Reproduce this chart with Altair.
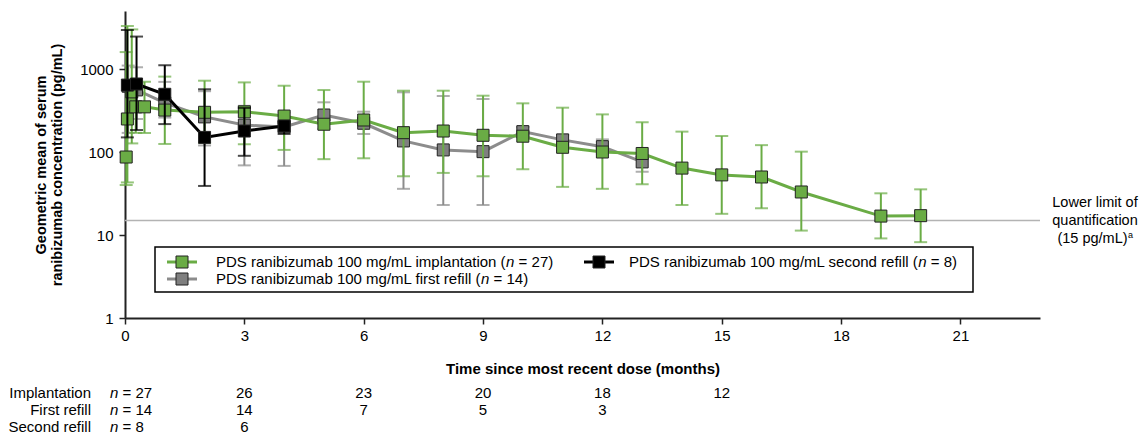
import altair as alt
import pandas as pd

# ---------------- data ----------------
impl_t = [0.03, 0.06, 0.17, 0.27, 0.49, 1, 2, 3, 4, 5, 6, 7, 8, 9, 10, 11, 12, 13, 14, 15, 16, 17, 19, 20]
impl_mean = [87, 250, 530, 350, 350, 320, 301, 305, 271, 216, 243, 171, 179, 159, 155, 114, 100, 96, 64, 53, 50, 33, 16.9, 17.1]
impl_hi = [1600, 3300, 3000, 700, 700, 810, 723, 690, 629, 558, 703, 548, 548, 477, 386, 342, 284, 228, 176, 156, 121, 101, 31.8, 35.5]
impl_lo = [40, 43, 127, 170, 170, 125, 130, 124, 106, 82, 84, 51, 56, 51, 62, 38, 36, 41, 23, 18, 21, 11.3, 9.1, 8.2]

first_t = [0.08, 0.29, 1, 2, 3, 4, 5, 6, 7, 8, 9, 10, 11, 12, 13]
first_mean = [620, 560, 390, 265, 211, 200, 279, 222, 136, 106, 101, 176, 140, 116, 76]
first_hi = [1100, 1050, 700, 540, 360, 300, 397, 306, 524, 473, 435, 200, 160, 142, 90]
first_lo = [170, 250, 260, 120, 69, 68, 190, 165, 36, 23, 23, 150, 120, 95, 58]

second_t = [0.06, 0.29, 1, 2, 3, 4]
second_mean = [640, 660, 496, 150, 179, 206]
second_hi = [2950, 2460, 1110, 570, 340, 225]
second_lo = [150, 184, 217, 39, 90, 165]

lloq_value = [15]

risk_months = [0, 3, 6, 9, 12, 15]
risk_implant = [27, 26, 23, 20, 18, 12]
risk_first = [14, 14, 7, 5, 3]
risk_second = [8, 6]
risk_row_labels = ["Implantation", "First refill", "Second refill"]

legend_labels = [
    "PDS ranibizumab 100 mg/mL implantation (n = 27)",
    "PDS ranibizumab 100 mg/mL second refill (n = 8)",
    "PDS ranibizumab 100 mg/mL first refill (n = 14)",
]
lloq_lines = ["Lower limit of", "quantification", "(15 pg/mL)"]
lloq_footnote = "a"

x_ticks = [0, 3, 6, 9, 12, 15, 18, 21]
y_ticks = [1, 10, 100, 1000]

# ---------------- styling ----------------
FONT = "Liberation Sans"
FS = 15
W, H = 915, 307
GREEN = "#6aac45"
GRAY_LINE = "#8c8c8c"
GRAY_FILL = "#7f7f7f"
BLACK = "#000000"
EDGE = "#222222"

HELV = {' ': 278, '(': 333, ')': 333, '/': 278, '=': 584, 'D': 722, 'L': 556, 'P': 667,
        'S': 667, 'a': 556, 'b': 556, 'c': 500, 'd': 556, 'e': 556, 'f': 278, 'g': 556,
        'i': 222, 'l': 222, 'm': 833, 'n': 556, 'o': 556, 'p': 556, 'r': 333, 's': 500,
        't': 278, 'u': 556, 'z': 500}


def tw(s, size=FS):
    return sum(HELV.get(ch, 556) for ch in s) * size / 1000.0


xs = alt.Scale(domain=[0, 23], nice=False, zero=False)
ys = alt.Scale(type="log", domain=[1, 5000], nice=False)

x_axis = alt.Axis(values=x_ticks, format="d", title="Time since most recent dose (months)",
                  titleFontWeight="bold", titleFontSize=FS, titleFont=FONT, titleColor="black",
                  labelFont=FONT, labelFontSize=FS, labelColor="black", labelPadding=4,
                  labelFlush=False,
                  tickSize=6, tickColor=EDGE, tickWidth=1.5, domainColor=EDGE, domainWidth=2,
                  grid=False, titlePadding=18)
y_axis = alt.Axis(values=y_ticks, format="d",
                  title=["Geometric mean of serum", "ranibizumab concentration (pg/mL)"],
                  titleFontWeight="bold", titleFontSize=14.5, titleFont=FONT, titleColor="black",
                  titleLineHeight=16, labelFont=FONT, labelFontSize=FS, labelColor="black",
                  labelPadding=6, labelFlush=False, tickSize=6, tickColor=EDGE, tickWidth=1.5,
                  domainColor=EDGE, domainWidth=2, grid=False, titlePadding=15)


def X(field):
    return alt.X(field, type="quantitative", scale=xs, axis=x_axis)


def Y(field):
    return alt.Y(field, type="quantitative", scale=ys, axis=y_axis)


def txt(s, x, y, align="left", size=FS, style="normal"):
    return alt.Chart(one).mark_text(align=align, baseline="middle", font=FONT, fontSize=size,
                                    fontStyle=style, color="black", text=s).encode(
        x=alt.value(x), y=alt.value(y))


one = pd.DataFrame({"k": [0]})
layers = []

# LLOQ line
layers.append(alt.Chart(pd.DataFrame({"v": lloq_value})).mark_rule(color="#b3b3b3", strokeWidth=1.5)
              .encode(y=Y("v")))


def series(t, m, lo, hi, line_c, fill_c):
    df = pd.DataFrame({"t": t, "mean": m, "lo": lo, "hi": hi})
    base = alt.Chart(df)
    err = base.mark_errorbar(ticks=True, size=13, thickness=2, color=line_c).encode(
        x=X("t"), y=Y("lo"), y2="hi")
    line = base.mark_line(color=line_c, strokeWidth=3).encode(x=X("t"), y=Y("mean"), order="t:Q")
    pts = base.mark_square(size=144, fill=fill_c, stroke=EDGE, strokeWidth=1, opacity=1).encode(
        x=X("t"), y=Y("mean"))
    return [err, line, pts]


layers += series(first_t, first_mean, first_lo, first_hi, GRAY_LINE, GRAY_FILL)
layers += series(impl_t, impl_mean, impl_lo, impl_hi, GREEN, GREEN)
layers += series(second_t, second_mean, second_lo, second_hi, BLACK, BLACK)

# Legend box
layers.append(alt.Chart(one).mark_rect(fill="white", stroke="black", strokeWidth=1.5).encode(
    x=alt.value(30), x2=alt.value(848), y=alt.value(236), y2=alt.value(281)))

leg_pos = [(57, 91, 251), (474, 504, 251), (57, 91, 268)]
leg_cols = [(GREEN, GREEN), (BLACK, BLACK), (GRAY_LINE, GRAY_FILL)]
for lab, (cx, tx, ry), (lc, fc) in zip(legend_labels, leg_pos, leg_cols):
    layers.append(alt.Chart(one).mark_rule(color=lc, strokeWidth=3).encode(
        x=alt.value(cx - 15), x2=alt.value(cx + 15), y=alt.value(ry)))
    layers.append(alt.Chart(one).mark_square(size=144, fill=fc, stroke=EDGE, strokeWidth=1, opacity=1)
                  .encode(x=alt.value(cx), y=alt.value(ry)))
    i = lab.index("(n") + 1
    pre, nn, post = lab[:i], lab[i], lab[i + 1:]
    layers.append(txt(pre, tx, ry))
    layers.append(txt(nn, tx + tw(pre), ry, style="italic"))
    layers.append(txt(post.lstrip(), tx + tw(pre) + tw(nn) + tw(" "), ry))

# LLOQ annotation
LS = 14.5
LCX = 970
for j, (line_txt, ly) in enumerate(zip(lloq_lines, [192, 210, 228])):
    cx = LCX if j < 2 else LCX - 2.5
    layers.append(txt(line_txt, cx, ly, align="center", size=LS))
layers.append(txt(lloq_footnote, LCX - 2.5 + tw(lloq_lines[2], LS) / 2 + 0.5, 224, size=9))

# Number at risk table
row_y = [382, 399, 416]
for lab, counts, ry in zip(risk_row_labels, [risk_implant, risk_first, risk_second], row_y):
    layers.append(txt(lab, -34, ry, align="right"))
    layers.append(txt("n", -15, ry, style="italic"))
    layers.append(txt(f"= {counts[0]}", -15 + tw("n") + tw(" "), ry))
    df_n = pd.DataFrame({"month": risk_months[1:len(counts)], "n": counts[1:]})
    layers.append(alt.Chart(df_n).mark_text(align="center", baseline="middle", font=FONT, fontSize=FS,
                                            color="black")
                  .encode(x=X("month"), y=alt.value(ry), text="n:Q"))

chart = alt.layer(*layers).properties(
    width=W, height=H,
    autosize=alt.AutoSizeParams(type="none"),
    padding={"left": 117, "top": 3, "right": 99, "bottom": 117},
    background="white",
).configure_view(stroke=None)

chart.save("out.html", embed_options={"renderer": "svg", "actions": False})
